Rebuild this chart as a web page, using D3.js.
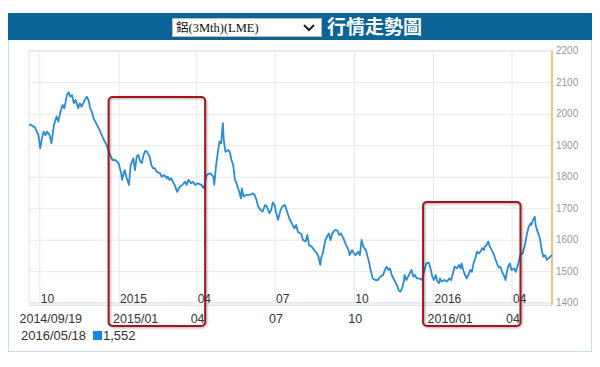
<!DOCTYPE html>
<html>
<head>
<meta charset="utf-8">
<script src="https://cdn.jsdelivr.net/npm/d3@7/dist/d3.min.js"></script>
<style>
  body { margin: 0; background: #fff; }
  svg { display: block; font-family: 'Liberation Sans', Arial, sans-serif; }
  .grid line { stroke: #e4e9ee; }
  .grid path { display: none; }
  .xlab path, .ylab path, .nav path { display: none; }
  .box { filter: drop-shadow(1px 1px 1px rgba(0,0,0,0.35)); }
</style>
</head>
<body>
<div id="chart"></div>
<script>
// LME aluminium 3M, daily close
const dates = [
  '2014-09-19', '2014-09-23', '2014-09-26', '2014-09-28', '2014-09-30', '2014-10-02', '2014-10-04', '2014-10-06',
  '2014-10-08', '2014-10-10', '2014-10-13', '2014-10-15', '2014-10-18', '2014-10-21', '2014-10-23', '2014-10-25',
  '2014-10-28', '2014-10-30', '2014-11-02', '2014-11-04', '2014-11-06', '2014-11-08', '2014-11-10', '2014-11-12',
  '2014-11-14', '2014-11-15', '2014-11-17', '2014-11-19', '2014-11-22', '2014-11-25', '2014-11-27', '2014-11-29',
  '2014-12-01', '2014-12-03', '2014-12-05', '2014-12-07', '2014-12-10', '2014-12-14', '2014-12-18', '2014-12-22',
  '2014-12-25', '2014-12-28', '2015-01-01', '2015-01-04', '2015-01-05', '2015-01-08', '2015-01-10', '2015-01-13',
  '2015-01-15', '2015-01-18', '2015-01-20', '2015-01-22', '2015-01-24', '2015-01-26', '2015-01-28', '2015-01-30',
  '2015-02-01', '2015-02-03', '2015-02-04', '2015-02-06', '2015-02-08', '2015-02-10', '2015-02-12', '2015-02-14',
  '2015-02-18', '2015-02-20', '2015-02-23', '2015-02-26', '2015-02-27', '2015-03-01', '2015-03-03', '2015-03-05',
  '2015-03-07', '2015-03-10', '2015-03-13', '2015-03-16', '2015-03-19', '2015-03-21', '2015-03-23', '2015-03-26',
  '2015-03-28', '2015-03-31', '2015-04-03', '2015-04-07', '2015-04-10', '2015-04-13', '2015-04-17', '2015-04-21',
  '2015-04-22', '2015-04-24', '2015-04-26', '2015-04-28', '2015-04-30', '2015-05-02', '2015-05-03', '2015-05-05',
  '2015-05-08', '2015-05-10', '2015-05-12', '2015-05-14', '2015-05-16', '2015-05-18', '2015-05-19', '2015-05-21',
  '2015-05-23', '2015-05-24', '2015-05-26', '2015-05-29', '2015-06-02', '2015-06-06', '2015-06-08', '2015-06-10',
  '2015-06-12', '2015-06-15', '2015-06-17', '2015-06-20', '2015-06-22', '2015-06-25', '2015-06-27', '2015-06-29',
  '2015-07-01', '2015-07-03', '2015-07-05', '2015-07-08', '2015-07-10', '2015-07-13', '2015-07-15', '2015-07-18',
  '2015-07-21', '2015-07-24', '2015-07-26', '2015-07-28', '2015-08-01', '2015-08-03', '2015-08-06', '2015-08-08',
  '2015-08-10', '2015-08-13', '2015-08-16', '2015-08-19', '2015-08-21', '2015-08-23', '2015-08-24', '2015-08-26',
  '2015-08-29', '2015-08-31', '2015-09-02', '2015-09-04', '2015-09-06', '2015-09-09', '2015-09-12', '2015-09-14',
  '2015-09-16', '2015-09-19', '2015-09-22', '2015-09-25', '2015-09-26', '2015-09-29', '2015-10-01', '2015-10-03',
  '2015-10-06', '2015-10-08', '2015-10-10', '2015-10-12', '2015-10-15', '2015-10-18', '2015-10-21', '2015-10-23',
  '2015-10-26', '2015-10-29', '2015-11-01', '2015-11-04', '2015-11-06', '2015-11-08', '2015-11-10', '2015-11-12',
  '2015-11-14', '2015-11-17', '2015-11-18', '2015-11-20', '2015-11-22', '2015-11-24', '2015-11-26', '2015-11-28',
  '2015-11-29', '2015-12-01', '2015-12-03', '2015-12-07', '2015-12-09', '2015-12-11', '2015-12-13', '2015-12-16',
  '2015-12-19', '2015-12-21', '2015-12-24', '2015-12-27', '2015-12-29', '2015-12-31', '2016-01-02', '2016-01-04',
  '2016-01-06', '2016-01-08', '2016-01-09', '2016-01-11', '2016-01-14', '2016-01-17', '2016-01-20', '2016-01-22',
  '2016-01-24', '2016-01-26', '2016-01-29', '2016-01-31', '2016-02-02', '2016-02-03', '2016-02-05', '2016-02-07',
  '2016-02-09', '2016-02-11', '2016-02-13', '2016-02-15', '2016-02-17', '2016-02-19', '2016-02-21', '2016-02-23',
  '2016-02-25', '2016-02-27', '2016-02-29', '2016-03-01', '2016-03-03', '2016-03-05', '2016-03-07', '2016-03-09',
  '2016-03-11', '2016-03-13', '2016-03-15', '2016-03-17', '2016-03-19', '2016-03-21', '2016-03-23', '2016-03-25',
  '2016-03-26', '2016-03-28', '2016-03-30', '2016-04-01', '2016-04-04', '2016-04-06', '2016-04-09', '2016-04-11',
  '2016-04-14', '2016-04-17', '2016-04-19', '2016-04-21', '2016-04-23', '2016-04-24', '2016-04-26', '2016-04-28',
  '2016-04-29', '2016-04-30', '2016-05-02', '2016-05-04', '2016-05-06', '2016-05-08', '2016-05-10', '2016-05-12',
  '2016-05-14', '2016-05-18'
]
const prices = [
  1966, 1962, 1956, 1943, 1932, 1890, 1922, 1943,
  1932, 1943, 1932, 1906, 1964, 1991, 1975, 2001,
  2028, 2017, 2059, 2068, 2054, 2059, 2033, 2044,
  2028, 2017, 2033, 2022, 2040, 2054, 2044, 2017,
  2006, 1985, 1975, 1964, 1948, 1922, 1901, 1869,
  1853, 1853, 1843, 1811, 1790, 1821, 1800, 1774,
  1837, 1858, 1821, 1864, 1869, 1848, 1843, 1869,
  1882, 1879, 1874, 1864, 1837, 1827, 1827, 1816,
  1811, 1800, 1805, 1795, 1800, 1790, 1795, 1784,
  1774, 1752, 1768, 1774, 1784, 1774, 1790, 1779,
  1784, 1774, 1779, 1774, 1763, 1805, 1811, 1800,
  1774, 1832, 1874, 1911, 1906, 1970, 1917, 1879,
  1885, 1879, 1853, 1837, 1790, 1779, 1768, 1752,
  1731, 1763, 1737, 1742, 1742, 1747, 1742, 1726,
  1705, 1694, 1689, 1710, 1705, 1684, 1694, 1718,
  1710, 1684, 1663, 1694, 1705, 1710, 1694, 1668,
  1652, 1636, 1647, 1625, 1618, 1599, 1594, 1615,
  1583, 1578, 1567, 1557, 1546, 1520, 1541, 1557,
  1599, 1610, 1620, 1599, 1620, 1631, 1629, 1615,
  1620, 1604, 1583, 1567, 1551, 1567, 1557, 1551,
  1562, 1551, 1599, 1578, 1567, 1536, 1498, 1477,
  1472, 1472, 1483, 1488, 1504, 1514, 1504, 1509,
  1488, 1472, 1467, 1456, 1440, 1435, 1446, 1467,
  1488, 1472, 1483, 1504, 1483, 1488, 1477, 1477,
  1472, 1493, 1525, 1527, 1509, 1483, 1472, 1488,
  1467, 1462, 1477, 1467, 1472, 1467, 1477, 1472,
  1493, 1514, 1509, 1520, 1509, 1525, 1504, 1488,
  1477, 1488, 1504, 1498, 1525, 1541, 1562, 1557,
  1562, 1573, 1567, 1578, 1583, 1594, 1578, 1567,
  1557, 1541, 1525, 1513, 1514, 1498, 1488, 1472,
  1488, 1514, 1525, 1504, 1509, 1498, 1525, 1551,
  1557, 1589, 1620, 1641, 1652, 1647, 1663, 1673,
  1647, 1636, 1620, 1604, 1567, 1546, 1551, 1536,
  1541, 1552
]

const tickDates = ['2014-10-01', '2015-01-01', '2015-04-01', '2015-07-01', '2015-10-01', '2016-01-01', '2016-04-01']
const tickLabels = ['10', '2015', '04', '07', '10', '2016', '04']
const navDates = ['2014-09-19', '2015-01-01', '2015-04-01', '2015-07-01', '2015-10-01', '2016-01-01', '2016-04-01']
const navLabels = ['2014/09/19', '2015/01', '04', '07', '10', '2016/01', '04']
const yTicks = [1400, 1500, 1600, 1700, 1800, 1900, 2000, 2100, 2200]

// highlighted ranges (red boxes): from, to, top value
const boxFrom = ['2015-01-01', '2016-01-01']
const boxTo = ['2015-04-01', '2016-04-01']
const boxTop = [2053, 1720]

const selectLabel = '鋁(3Mth)(LME)'
const title = '行情走勢圖'
const lastLabel = '2016/05/18'
const lastValue = '1,552'

const width = 600
const height = 367
const parse = d3.timeParse('%Y-%m-%d')

const data = dates.map(function (d, i) { return {date: parse(d), value: prices[i]} })

const x = d3.scaleTime()
    .domain([parse(dates[0]), parse(dates[dates.length - 1])])
    .range([29, 552])
const y = d3.scaleLinear().domain([1400, 2200]).range([302.7, 50.7])
const xNav = x.copy().range([23, 546])

const svg = d3.select('#chart').append('svg')
    .attr('width', width)
    .attr('height', height)

// panel + header
svg.append('rect')
    .attr('x', 8.5).attr('y', 13.5).attr('width', 583).attr('height', 338)
    .attr('fill', '#fff').attr('stroke', '#c8dde8')
svg.append('rect')
    .attr('x', 8).attr('y', 13).attr('width', 584).attr('height', 27)
    .attr('fill', '#0b6496')
svg.append('rect')
    .attr('x', 172.5).attr('y', 18.5).attr('width', 149).attr('height', 18)
    .attr('fill', '#fff').attr('stroke', '#bbb')
svg.append('text')
    .attr('x', 176).attr('y', 32)
    .style('font-family', "'Liberation Serif', 'Noto Sans CJK TC', serif")
    .style('font-size', '12.5px')
    .attr('fill', '#111')
    .text(selectLabel)
svg.append('path')
    .attr('d', 'M304,25 L309,30 L314,25')
    .attr('fill', 'none').attr('stroke', '#222').attr('stroke-width', 2)
svg.append('text')
    .attr('x', 327).attr('y', 34)
    .style('font-family', "'Noto Sans CJK TC', sans-serif")
    .style('font-size', '19px')
    .style('font-weight', 'bold')
    .attr('fill', '#fff')
    .text(title)

// plot frame and grid
const g = svg.append('g')

g.append('rect')
    .attr('x', x.range()[0]).attr('y', y.range()[1])
    .attr('width', x.range()[1] - x.range()[0])
    .attr('height', y.range()[0] - y.range()[1])
    .attr('fill', 'none').attr('stroke', '#dfe3e8')

g.append('g')
    .attr('class', 'grid')
    .attr('transform', 'translate(0,' + y.range()[0] + ')')
    .call(d3.axisBottom(x)
      .tickValues(tickDates.map(parse))
      .tickSize(-(y.range()[0] - y.range()[1]))
      .tickFormat(''))

g.append('g')
    .attr('class', 'grid')
    .attr('transform', 'translate(' + x.range()[0] + ',0)')
    .call(d3.axisLeft(y)
      .tickValues(yTicks)
      .tickSize(-(x.range()[1] - x.range()[0]))
      .tickFormat(''))

// bottom axis line
g.append('line')
    .attr('x1', x.range()[0]).attr('x2', x.range()[1])
    .attr('y1', y(1400) + 2.5).attr('y2', y(1400) + 2.5)
    .attr('stroke', '#d4d8dc')

// right axis
g.append('line')
    .attr('x1', x.range()[1]).attr('x2', x.range()[1])
    .attr('y1', y.range()[1]).attr('y2', y.range()[0] + 2)
    .attr('stroke', '#f3b64c').attr('stroke-width', 1.5)

const yAxis = g.append('g')
    .attr('class', 'ylab')
    .attr('transform', 'translate(' + (x.range()[1] + 1) + ',0)')
    .call(d3.axisRight(y).tickValues(yTicks).tickSize(0).tickPadding(3).tickFormat(d3.format('d')))
yAxis.selectAll('text')
    .attr('fill', '#9a9a9a')
    .style('font-size', '10px')
    .style('font-family', "'Liberation Sans', Arial, sans-serif")

// price line
g.append('path')
    .datum(data)
    .attr('fill', 'none')
    .attr('stroke', '#2b8bd5')
    .attr('stroke-width', 1.8)
    .attr('stroke-linejoin', 'round')
    .attr('d', d3.line()
      .x(function (d) { return x(d.date) })
      .y(function (d) { return y(d.value) }))

// inner date labels
const xAxis = g.append('g')
    .attr('class', 'xlab')
    .attr('transform', 'translate(0,' + y.range()[0] + ')')
    .call(d3.axisBottom(x)
      .tickValues(tickDates.map(parse))
      .tickSize(0)
      .tickFormat(function (d, i) { return tickLabels[i] }))
xAxis.selectAll('text')
    .attr('text-anchor', 'start')
    .attr('x', 1)
    .attr('y', 0)
    .attr('dy', 0)
    .attr('fill', '#333')
    .style('font-size', '12px')
    .style('font-family', "'Liberation Sans', Arial, sans-serif")

// navigator date row
const nav = g.append('g')
    .attr('class', 'nav')
    .attr('transform', 'translate(0,323)')
    .call(d3.axisBottom(xNav)
      .tickValues(navDates.map(parse))
      .tickSize(0)
      .tickFormat(function (d, i) { return navLabels[i] }))
nav.selectAll('text')
    .attr('text-anchor', 'start')
    .attr('x', function (d, i) { return i === 0 ? -4 : 0 })
    .attr('y', 0)
    .attr('dy', 0)
    .attr('fill', '#333')
    .style('font-size', '12.5px')
    .style('font-family', "'Liberation Sans', Arial, sans-serif")

// last value readout
svg.append('text')
    .attr('x', 21).attr('y', 340)
    .attr('fill', '#333')
    .style('font-size', '13px')
    .text(lastLabel)
svg.append('rect')
    .attr('x', 93).attr('y', 331).attr('width', 9).attr('height', 9)
    .attr('fill', '#1a86de')
svg.append('text')
    .attr('x', 103).attr('y', 340)
    .attr('fill', '#333')
    .style('font-size', '13px')
    .text(lastValue)

// red highlight boxes
boxFrom.forEach(function (d, i) {
  const x0 = x(parse(d)) - 10
  const x1 = x(parse(boxTo[i])) + 9
  const y0 = y(boxTop[i])
  g.append('rect')
      .attr('class', 'box')
      .attr('x', x0).attr('y', y0)
      .attr('width', x1 - x0).attr('height', 326 - y0)
      .attr('rx', 4)
      .attr('fill', 'none')
      .attr('stroke', '#a3161f')
      .attr('stroke-width', 2)
})
</script>
</body>
</html>
